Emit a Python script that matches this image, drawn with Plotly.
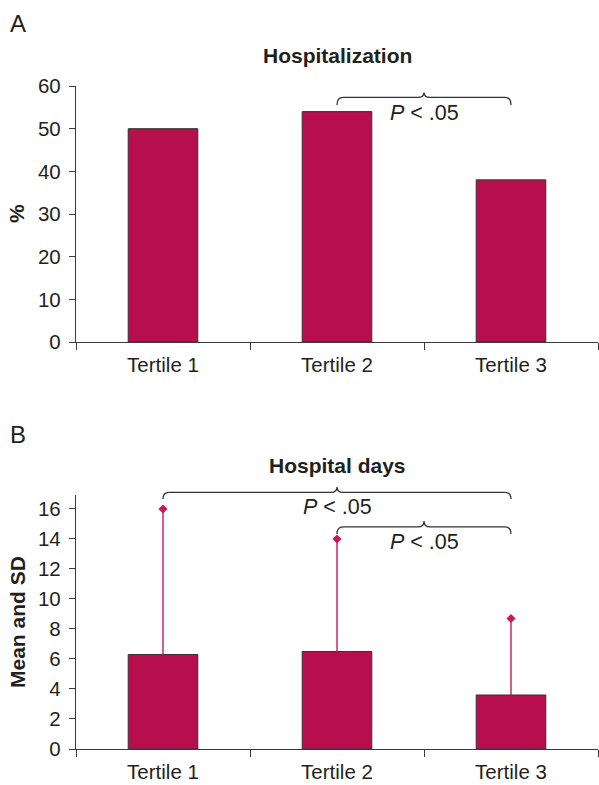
import plotly.graph_objects as go

# ---------------- data ----------------
categories = ["Tertile 1", "Tertile 2", "Tertile 3"]
hosp_pct = [50, 54, 38]                 # Panel A: hospitalization %
days_mean = [6.3, 6.5, 3.6]             # Panel B: mean hospital days
days_sd = [9.7, 7.5, 5.1]               # Panel B: SD (upper only)
yticks_a = [0, 10, 20, 30, 40, 50, 60]
yticks_b = [0, 2, 4, 6, 8, 10, 12, 14, 16]
sig_text = "<i>P</i> < .05"

# ---------------- style / layout constants ----------------
W, H = 599, 785
FONT = "Liberation Sans, Arial, Helvetica, sans-serif"
TXT = "#231F20"
BAR = "#B70F4E"
ERR = "#C8175D"
AXC = "#3a3a3a"
TICKSZ = 20.5

def py(px):  # pixel-from-top -> paper fraction
    return 1 - px / H

xdom = [76 / W, 598 / W]
ydomA = [py(342), py(86)]
ydomB = [py(749), py(495)]
rangeA = [0, 60]
rangeB = [0, 16.93]
# overlay (bracket) subplots extend above the plot area, same scale
ydomA2 = [ydomA[0], py(58)]
ydomB2 = [ydomB[0], py(468)]
rangeA2 = [0, rangeA[1] * (ydomA2[1] - ydomA2[0]) / (ydomA[1] - ydomA[0])]
rangeB2 = [0, rangeB[1] * (ydomB2[1] - ydomB2[0]) / (ydomB[1] - ydomB[0])]

fig = go.Figure()

bar_style = dict(marker=dict(color=BAR, line=dict(color="#333333", width=1)),
                 width=0.4, showlegend=False, hoverinfo="skip")

fig.add_trace(go.Bar(x=categories, y=hosp_pct, xaxis="x", yaxis="y", **bar_style))
fig.add_trace(go.Bar(
    x=categories, y=days_mean, xaxis="x2", yaxis="y2",
    error_y=dict(type="data", symmetric=False, array=days_sd,
                 arrayminus=[0] * len(days_sd), width=0, thickness=1.4, color=ERR),
    **bar_style))
fig.add_trace(go.Scatter(
    x=categories, y=[m + s for m, s in zip(days_mean, days_sd)],
    xaxis="x2", yaxis="y2", mode="markers", cliponaxis=False,
    marker=dict(symbol="diamond", size=7, color=ERR),
    showlegend=False, hoverinfo="skip"))

xcommon = dict(type="category", domain=xdom, range=[-0.5, 2.5], showline=True,
               linecolor=AXC, linewidth=1.4, ticks="outside", tickson="boundaries",
               ticklen=7, tickcolor=AXC, tickwidth=1.4, showgrid=False, zeroline=False,
               ticklabelstandoff=4, automargin=False,
               tickfont=dict(family=FONT, size=TICKSZ, color=TXT), fixedrange=True)
ycommon = dict(showline=True, linecolor=AXC, linewidth=1.4, ticks="outside",
               ticklen=6, tickcolor=AXC, tickwidth=1.4, showgrid=False, zeroline=False,
               ticklabelstandoff=4, automargin=False,
               tickfont=dict(family=FONT, size=TICKSZ, color=TXT), fixedrange=True)
hidden = dict(visible=False, showgrid=False, zeroline=False, fixedrange=True,
              automargin=False)

fig.update_layout(
    width=W, height=H, margin=dict(l=0, r=0, t=0, b=0, pad=0), autosize=False,
    paper_bgcolor="white", plot_bgcolor="rgba(0,0,0,0)",
    bargap=0.6, showlegend=False,
    xaxis=dict(anchor="y", **xcommon),
    yaxis=dict(anchor="x", domain=ydomA, range=rangeA, tickvals=yticks_a, **ycommon),
    xaxis2=dict(anchor="y2", **xcommon),
    yaxis2=dict(anchor="x2", domain=ydomB, range=rangeB, tickvals=yticks_b, **ycommon),
    xaxis3=dict(anchor="y3", domain=xdom, range=[-0.5, 2.5], **hidden),
    yaxis3=dict(anchor="x3", domain=ydomA2, range=rangeA2, **hidden),
    xaxis4=dict(anchor="y4", domain=xdom, range=[-0.5, 2.5], **hidden),
    yaxis4=dict(anchor="x4", domain=ydomB2, range=rangeB2, **hidden),
)

def bracket(x0, x1, ytop, drop, notch, xr, yr, e=0.035):
    xm = (x0 + x1) / 2
    yb = ytop - drop
    yn = ytop + notch
    path = (f"M {x0},{yb} Q {x0},{ytop} {x0+e},{ytop} "
            f"L {xm-e},{ytop} Q {xm},{ytop} {xm},{yn} "
            f"Q {xm},{ytop} {xm+e},{ytop} L {x1-e},{ytop} "
            f"Q {x1},{ytop} {x1},{yb}")
    return dict(type="path", path=path, xref=xr, yref=yr,
                line=dict(color="#333333", width=1.3))

shapes = [
    bracket(1, 2, 57.35, 1.8, 1.15, "x3", "y3"),
    bracket(0, 2, 17.11, 0.45, 0.36, "x4", "y4"),
    bracket(1, 2, 14.80, 0.47, 0.40, "x4", "y4"),
]
fig.update_layout(shapes=shapes)

ann = []
def txt(text, x, y, xref, yref, size=21, bold=False, **kw):
    t = f"<b>{text}</b>" if bold else text
    d = dict(text=t, x=x, y=y, xref=xref, yref=yref, showarrow=False,
             font=dict(family=FONT, size=size, color=TXT))
    d.update(kw)
    ann.append(d)

xmid = (xdom[0] + xdom[1]) / 2
txt("A", 8 / W, py(24), "paper", "paper", size=24, xanchor="left", yanchor="middle")
txt("B", 8 / W, py(434), "paper", "paper", size=24, xanchor="left", yanchor="middle")
txt("Hospitalization", xmid, py(56), "paper", "paper", bold=True, yanchor="middle")
txt("Hospital days", xmid, py(465), "paper", "paper", bold=True, yanchor="middle")
txt("%", 17 / W, (ydomA[0] + ydomA[1]) / 2, "paper", "paper", bold=True,
    textangle=-90, xanchor="center", yanchor="middle")
txt("Mean and SD", 17 / W, (ydomB[0] + ydomB[1]) / 2, "paper", "paper", bold=True,
    textangle=-90, xanchor="center", yanchor="middle")
txt(sig_text, 1.5, 53.7, "x3", "y3", size=21.5, yanchor="middle")
txt(sig_text, 1.0, 16.13, "x4", "y4", size=21.5, yanchor="middle")
txt(sig_text, 1.5, 13.83, "x4", "y4", size=21.5, yanchor="middle")
fig.update_layout(annotations=ann)

fig.write_html("out.html", config={"displayModeBar": False},
               post_script="document.body.style.margin='0';document.body.style.overflow='hidden';")
